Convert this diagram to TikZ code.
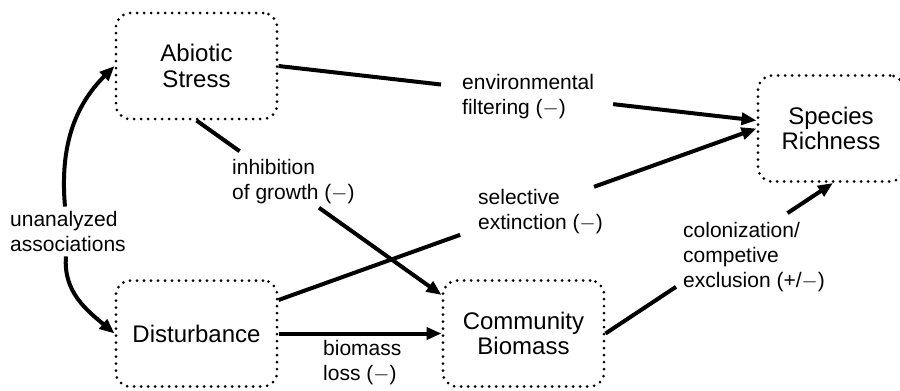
\documentclass[tikz,border=0pt]{standalone}
\usepackage{fontspec}
\setmainfont{Liberation Sans}
\usetikzlibrary{arrows.meta}
\begin{document}
\begin{tikzpicture}[x=1pt,y=-1pt,
  dotbox/.style={draw, line width=3pt, line cap=round, dash pattern=on 0pt off 7pt,
    rounded corners=14pt, minimum width=161pt, minimum height=106pt, align=center,
    font=\fontsize{24}{25.5}\selectfont, inner sep=0pt},
  lbl/.style={align=left, anchor=west, inner sep=0pt, font=\fontsize{21}{25}\selectfont},
  conn/.style={line width=4pt},
  arr/.style={line width=4pt, -{Triangle[length=15pt,width=12pt]}},
]
\useasboundingbox (0,0) rectangle (900,391);

% boxes
\node[dotbox] (A) at (196.5,66) {Abiotic\\Stress};
\node[dotbox] (D) at (196.5,333.5) {Disturbance};
\node[dotbox] (C) at (523.5,333.5) {Community\\Biomass};
\node[dotbox, minimum width=146pt] (S) at (831,128.5) {Species\\Richness};

% labels
\node[lbl] (Le) at (462,96.5) {environmental\\filtering ($-$)};
\node[lbl] (Li) at (232,181.5) {inhibition\\of growth ($-$)};
\node[lbl] (Ls) at (478,211.5) {selective\\extinction ($-$)};
\node[lbl] (Lb) at (323,362.5) {biomass\\loss ($-$)};
\node[lbl] (Lc) at (683,257.5) {colonization/\\competive\\exclusion (+/$-$)};
\node[lbl] (U) at (10,231) {unanalyzed\\associations};

% environmental filtering
\coordinate (Se) at ([yshift=8pt]S.west);
\path (A.east) -- (Se) coordinate[pos=0.34] (e1) coordinate[pos=0.70] (e2);
\draw[conn] (A.east) -- (e1);
\draw[arr] (e2) -- (Se);

% inhibition of growth
\coordinate (Ci) at ([yshift=38.5pt]C.west);
\path (A.south) -- (Ci) coordinate[pos=0.176] (i1) coordinate[pos=0.50] (i2);
\draw[conn] (A.south) -- (i1);
\draw[arr] (i2) -- (Ci);

% selective extinction
\coordinate (Ds) at ([yshift=33.5pt]D.east);
\path (Ds) -- (S.west) coordinate[pos=0.38] (s1) coordinate[pos=0.66] (s2);
\draw[conn] (Ds) -- (s1);
\draw[arr] (s2) -- (S.west);

% biomass loss
\draw[arr] (D.east) -- (C.west);

% colonization / competitive exclusion
\coordinate (Sc) at ([xshift=2pt]S.south);
\path (C.east) -- (Sc) coordinate[pos=0.31] (c1) coordinate[pos=0.80] (c2);
\draw[conn] (C.east) -- (c1);
\draw[arr] (c2) -- (Sc);

% unanalyzed associations
\coordinate (Ut) at ([xshift=55pt,yshift=4pt]U.north west);
\coordinate (Ub) at ([xshift=56pt,yshift=-5pt]U.south west);
\draw[arr] (Ut) to[out=95,in=225] (A.west);
\draw[arr] (Ub) to[out=-95,in=140] (D.west);
\end{tikzpicture}
\end{document}
